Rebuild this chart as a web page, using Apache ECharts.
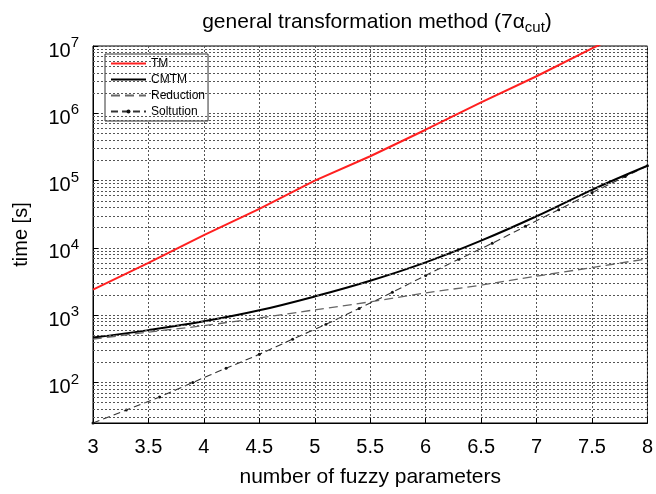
<!DOCTYPE html>
<html>
<head>
<meta charset="utf-8">
<script src="https://cdn.jsdelivr.net/npm/echarts@6/dist/echarts.min.js"></script>
<style>
html,body{margin:0;padding:0;background:#fff;}
#main{width:656px;height:494px;}
</style>
</head>
<body>
<div id="main"></div>
<script>
// ---- data ----
const xHalf = [3, 3.5, 4, 4.5, 5, 5.5, 6, 6.5, 7, 7.5, 8];
const tmValues = [2400, 6000, 15500, 38000, 100000, 230000, 570000, 1450000, 3550000, 9200000, 23000000];
const cmtmValues = [465, 600, 810, 1180, 1900, 3250, 6100, 12800, 29500, 73000, 166000];
const reductionValues = [440, 560, 700, 910, 1200, 1580, 2140, 2800, 3800, 5100, 6900];
const xSol = [3, 3.3, 3.6, 3.9, 4.2, 4.5, 4.8, 5.1, 5.4, 5.7, 6.0, 6.3, 6.6, 6.9, 7.2, 7.5, 7.8, 8.0];
const solutionValues = [25, 39, 61, 100, 163, 262, 440, 730, 1260, 2190, 3900, 6800, 11700, 20900, 37000, 66000, 115000, 166000];
const seriesNames = ['TM', 'CMTM', 'Reduction', 'Soltution'];
const minorGridValues = [];
for (let k = 1; k <= 6; k++) {
  for (let m = 2; m <= 9; m++) {
    const v = m * Math.pow(10, k);
    if (v > 25) minorGridValues.push(v);
  }
}

function pairs(xs, ys) { return xs.map((x, i) => [x, ys[i]]); }

const chart = echarts.init(document.getElementById('main'));
const gridStyle = { color: '#555', width: 1, type: [2, 2] };
const font = 'Liberation Sans, Arial, Helvetica, sans-serif';

chart.setOption({
  animation: false,
  textStyle: { fontFamily: font },
  title: {
    text: 'general transformation method (7{a|α}{s|cut})',
    left: 372,
    textAlign: 'center',
    top: 5,
    textStyle: {
      fontFamily: font, fontSize: 21, fontWeight: 'normal', color: '#000',
      rich: {
        a: { fontFamily: font, fontSize: 21, color: '#000' },
        s: { fontFamily: font, fontSize: 15, color: '#000', padding: [10, 0, 0, 0] }
      }
    }
  },
  legend: {
    orient: 'vertical',
    left: 105,
    top: 54,
    itemWidth: 35,
    itemHeight: 5,
    itemGap: 3,
    padding: [3, 3, 3, 5],
    backgroundColor: '#fff',
    borderColor: '#333',
    borderWidth: 1,
    borderRadius: 0,
    textStyle: { fontFamily: font, fontSize: 12, lineHeight: 13, color: '#000' },
    data: [
      { name: 'TM', itemStyle: { opacity: 0 } },
      { name: 'CMTM', itemStyle: { opacity: 0 } },
      { name: 'Reduction', itemStyle: { opacity: 0 } },
      { name: 'Soltution' }
    ]
  },
  grid: {
    left: 93, right: 3, top: 46, bottom: 71,
    show: true, borderColor: '#000', borderWidth: 1, backgroundColor: 'transparent'
  },
  xAxis: {
    type: 'value',
    min: 3, max: 8, interval: 0.5,
    name: 'number of fuzzy parameters',
    nameLocation: 'middle',
    nameGap: 44,
    nameTextStyle: { fontFamily: font, fontSize: 21, color: '#000' },
    axisLine: { show: true, lineStyle: { color: '#000', width: 1 } },
    axisTick: { show: true, inside: true, length: 5, lineStyle: { color: '#000' } },
    axisLabel: { fontFamily: font, fontSize: 20, color: '#000', margin: 14 },
    splitLine: { show: true, lineStyle: gridStyle }
  },
  yAxis: {
    type: 'log',
    logBase: 10,
    min: 25, max: 10000000,
    name: 'time [s]',
    nameLocation: 'middle',
    nameGap: 62,
    nameTextStyle: { fontFamily: font, fontSize: 20, color: '#000' },
    axisLine: { show: true, lineStyle: { color: '#000', width: 1 } },
    axisTick: { show: true, inside: true, length: 5, lineStyle: { color: '#000' } },
    axisLabel: {
      margin: 14,
      showMinLabel: false,
      formatter: function (v) {
        const e = Math.log10(v);
        if (Math.abs(e - Math.round(e)) < 1e-6) return '{b|10}{s|' + Math.round(e) + '}';
        return '';
      },
      rich: {
        b: { fontFamily: font, fontSize: 20, color: '#000', padding: [10, 0, 0, 0] },
        s: { fontFamily: font, fontSize: 15, color: '#000', padding: [0, 0, 6, 0] }
      }
    },
    splitLine: { show: true, lineStyle: gridStyle }
  },
  series: [
    {
      name: 'TM', type: 'line', data: pairs(xHalf, tmValues),
      symbol: 'none', lineStyle: { color: '#ff2020', width: 2 }, itemStyle: { color: '#ff2020' },
      z: 5,
      markLine: {
        silent: true, symbol: 'none', animation: false,
        label: { show: false },
        lineStyle: gridStyle,
        emphasis: { disabled: true },
        data: minorGridValues.map(v => ({ yAxis: v }))
      }
    },
    {
      name: 'CMTM', type: 'line', data: pairs(xHalf, cmtmValues), smooth: 0.4,
      symbol: 'none', lineStyle: { color: '#000', width: 2 }, itemStyle: { color: '#000' }, z: 4
    },
    {
      name: 'Reduction', type: 'line', data: pairs(xHalf, reductionValues), smooth: 0.3,
      symbol: 'none', lineStyle: { color: '#666', width: 1.3, type: [9, 5] }, itemStyle: { color: '#666' }, z: 3
    },
    {
      name: 'Soltution', type: 'line', data: pairs(xSol, solutionValues), smooth: 0.2,
      symbol: 'circle', symbolSize: 3, showSymbol: true,
      lineStyle: { color: '#333', width: 1.1, type: [7, 4] }, itemStyle: { color: '#111' }, z: 3
    }
  ]
});
</script>
</body>
</html>
